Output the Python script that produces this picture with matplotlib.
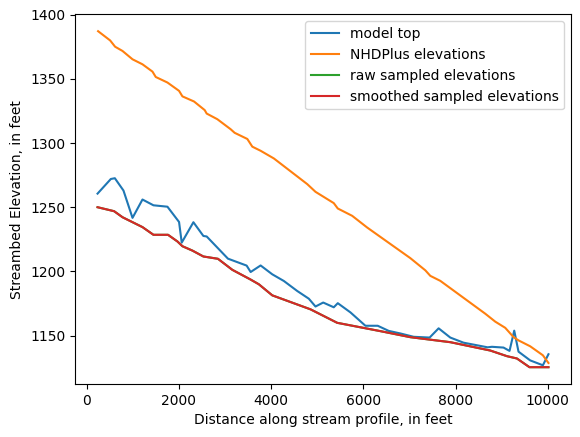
import matplotlib
matplotlib.use("Agg")
import matplotlib.pyplot as plt

# model top
model_x = [238, 526, 613, 800, 996, 1212, 1450, 1753, 2005, 2063, 2316, 2532, 2604,
           3065, 3470, 3557, 3773, 4026, 4277, 4567, 4818, 4963, 5130, 5359, 5446,
           5721, 6045, 6312, 6550, 6803, 7091, 7437, 7632, 7885, 8173, 8463, 8693,
           8788, 9039, 9169, 9271, 9364, 9617, 9892, 10013]
model_y = [1260.6, 1272.0, 1272.6, 1263.0, 1241.7, 1256.0, 1251.5, 1250.4, 1238.5, 1222.4,
           1238.3, 1227.6, 1227.2, 1209.9, 1204.5, 1199.5, 1204.6, 1197.7, 1192.5, 1184.7,
           1178.7, 1172.6, 1175.7, 1172.0, 1175.2, 1168.0, 1157.6, 1157.6, 1153.6, 1151.6,
           1149.0, 1148.4, 1155.6, 1148.4, 1144.4, 1142.4, 1140.8, 1141.2, 1140.6, 1138.0,
           1153.8, 1137.4, 1130.6, 1126.8, 1135.4]

# NHDPlus elevations
nhd_x = [250, 511, 619, 779, 996, 1212, 1429, 1500, 1753, 2005, 2078, 2330, 2561, 2604,
         2835, 3123, 3210, 3485, 3593, 3773, 4061, 4784, 4963, 5359, 5446, 5758, 6082,
         7019, 7344, 7452, 7669, 8643, 8860, 9076, 9255, 9364, 9617, 9892, 10013]
nhd_y = [1387.2, 1380.0, 1375.1, 1371.8, 1365.3, 1361.4, 1355.7, 1351.5, 1347.2, 1340.7,
         1336.4, 1332.4, 1325.7, 1323.0, 1318.6, 1310.8, 1308.0, 1303.2, 1297.2, 1294.0,
         1288.0, 1268.0, 1262.0, 1253.2, 1249.0, 1243.3, 1234.2, 1210.3, 1200.8, 1196.5,
         1192.6, 1167.0, 1160.8, 1156.0, 1148.8, 1146.2, 1141.6, 1134.6, 1128.6]

# raw sampled elevations
raw_x = [238, 597, 779, 1212, 1450, 1766, 1970, 2078, 2294, 2532, 2848, 3160, 3557,
         3736, 4026, 4855, 5433, 6370, 7019, 7885, 8751, 9113, 9329, 9602, 10013]
raw_y = [1250.0, 1246.9, 1242.2, 1234.5, 1228.5, 1228.5, 1223.3, 1219.6, 1216.2, 1211.6,
         1209.8, 1201.2, 1193.6, 1189.9, 1181.3, 1170.4, 1159.9, 1153.4, 1148.7, 1144.8,
         1138.3, 1133.9, 1132.1, 1125.3, 1125.3]

# smoothed sampled elevations
smooth_x = raw_x
smooth_y = raw_y

fig = plt.figure(figsize=(5.8, 4.37), dpi=100)
ax = fig.add_axes([75 / 580, 53 / 437, 496 / 580, 369.6 / 437])
ax.plot(model_x, model_y, label="model top")
ax.plot(nhd_x, nhd_y, label="NHDPlus elevations")
ax.plot(raw_x, raw_y, label="raw sampled elevations")
ax.plot(smooth_x, smooth_y, label="smoothed sampled elevations")
ax.set_xlabel("Distance along stream profile, in feet")
ax.set_ylabel("Streambed Elevation, in feet")
ax.legend(loc="upper right")
fig.savefig("out.png", dpi=100)
